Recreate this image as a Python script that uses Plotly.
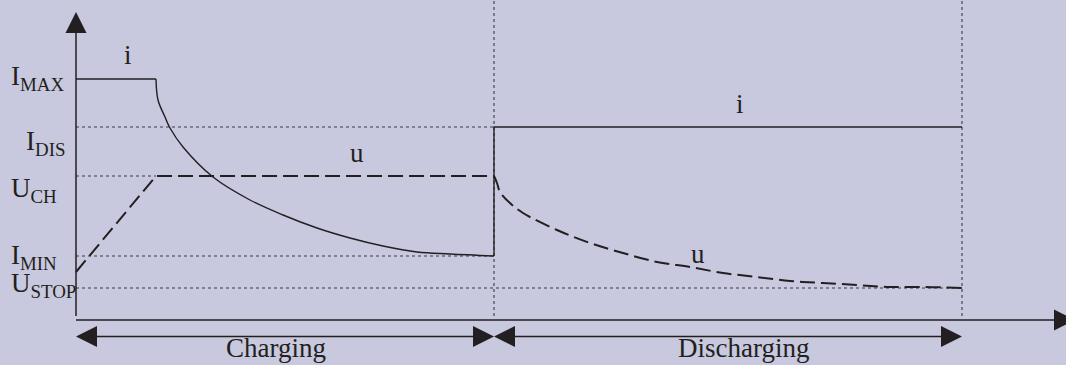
import plotly.graph_objects as go

# phase boundaries (time from the origin, arbitrary units)
t_cc_end = 80
t_charge_end = 418
t_discharge_end = 886

# levels above the time axis (arbitrary units)
I_MAX, I_DIS, U_CH, I_MIN, U_STOP = 241, 193, 144, 64, 32
u_start = 48

level_labels = ["I<sub>MAX</sub>", "I<sub>DIS</sub>", "U<sub>CH</sub>", "I<sub>MIN</sub>", "U<sub>STOP</sub>"]
label_x = [-67, -52, -67, -67, -67]
label_y = [242, 177, 130, 63, 35]

# charging current after the constant-current phase
i_cv_t = [80, 82, 89, 94, 107, 137, 174, 207, 241, 274, 307, 341, 374, 418]
i_cv_v = [241, 220, 203, 192, 173, 143, 120, 105, 92, 82, 74, 68, 66, 64]

# voltage during discharge
u_dis_t = [418, 421, 424, 434, 447, 481, 514, 547, 581, 614, 647, 681, 714, 747, 781, 814, 847, 886]
u_dis_v = [144, 137, 128, 117, 107, 90, 77, 67, 58, 53, 47, 43, 39, 37, 35, 33, 33, 32]

phase_names = ["Charging", "Discharging"]
phase_label_x = [200, 667]

BG = "rgb(200,201,222)"
INK = "#231f20"
FONT = "Liberation Serif"

fig = go.Figure()


def line(x, y, dash="solid", width=1.4, color=INK, shape="linear"):
    fig.add_trace(go.Scatter(x=x, y=y, mode="lines", hoverinfo="skip",
                             line=dict(color=color, width=width, dash=dash, shape=shape)))


# dotted guide lines
dot = dict(dash="dot", width=1.1, color="#3a3a44")
line([0, t_charge_end], [I_DIS, I_DIS], **dot)
line([0, t_cc_end], [U_CH, U_CH], **dot)
line([0, t_charge_end], [I_MIN, I_MIN], **dot)
line([0, t_discharge_end], [U_STOP, U_STOP], **dot)
line([t_charge_end, t_charge_end], [4, 320], **dot)
line([t_discharge_end, t_discharge_end], [4, 320], **dot)

# current
line([0, t_cc_end], [I_MAX, I_MAX])
line(i_cv_t, i_cv_v, shape="spline")
line([t_charge_end, t_charge_end, t_discharge_end], [I_MIN, I_DIS, I_DIS])

# voltage
dash = "15px,6px"
line([0, t_cc_end, t_charge_end], [u_start, U_CH, U_CH], dash=dash, width=2)
line(u_dis_t, u_dis_v, dash=dash, width=2, shape="spline")

# axes
line([0, 0], [4, 290], width=1.5)
line([0, 980], [0, 0], width=1.5)
arrow_y = -16.5
line([10, t_charge_end - 10], [arrow_y, arrow_y], width=1.5)
line([t_charge_end + 10, t_discharge_end - 10], [arrow_y, arrow_y], width=1.5)

shapes = []
L, H = 21, 10.5


def head(x, y, d):
    # triangle with its tip at (x, y), pointing in direction d
    if d == "up":
        p = f"M{x},{y} L{x - H},{y - L} L{x + H},{y - L} Z"
    elif d == "right":
        p = f"M{x},{y} L{x - L},{y - H} L{x - L},{y + H} Z"
    else:
        p = f"M{x},{y} L{x + L},{y - H} L{x + L},{y + H} Z"
    shapes.append(dict(type="path", path=p, xref="x", yref="y",
                       fillcolor=INK, line=dict(width=0)))


head(0, 308, "up")
head(999, 0, "right")
head(0, arrow_y, "left")
head(t_charge_end, arrow_y, "right")
head(t_charge_end, arrow_y, "left")
head(t_discharge_end, arrow_y, "right")

txt = dict(family=FONT, size=27, color=INK)
ann = []
for s, x, y in zip(level_labels, label_x, label_y):
    ann.append(dict(x=x, y=y, text=s, showarrow=False, xanchor="left", yanchor="middle", font=txt))
for s, x in zip(phase_names, phase_label_x):
    ann.append(dict(x=x, y=-28, text=s, showarrow=False, xanchor="center", yanchor="middle", font=txt))
ann.append(dict(x=52, y=265, text="i", showarrow=False, font=txt))
ann.append(dict(x=281, y=167, text="u", showarrow=False, font=txt))
ann.append(dict(x=664, y=216, text="i", showarrow=False, font=txt))
ann.append(dict(x=622, y=66, text="u", showarrow=False, font=txt))

fig.update_layout(
    width=1066, height=365,
    margin=dict(l=0, r=0, t=0, b=0),
    paper_bgcolor=BG, plot_bgcolor=BG,
    showlegend=False,
    shapes=shapes, annotations=ann,
    xaxis=dict(range=[-76, 990], visible=False, fixedrange=True),
    yaxis=dict(range=[-45, 320], visible=False, fixedrange=True),
)

fig.write_html("out.html", config={"displayModeBar": False},
               post_script="document.body.style.margin='0';document.body.style.overflow='hidden';")
